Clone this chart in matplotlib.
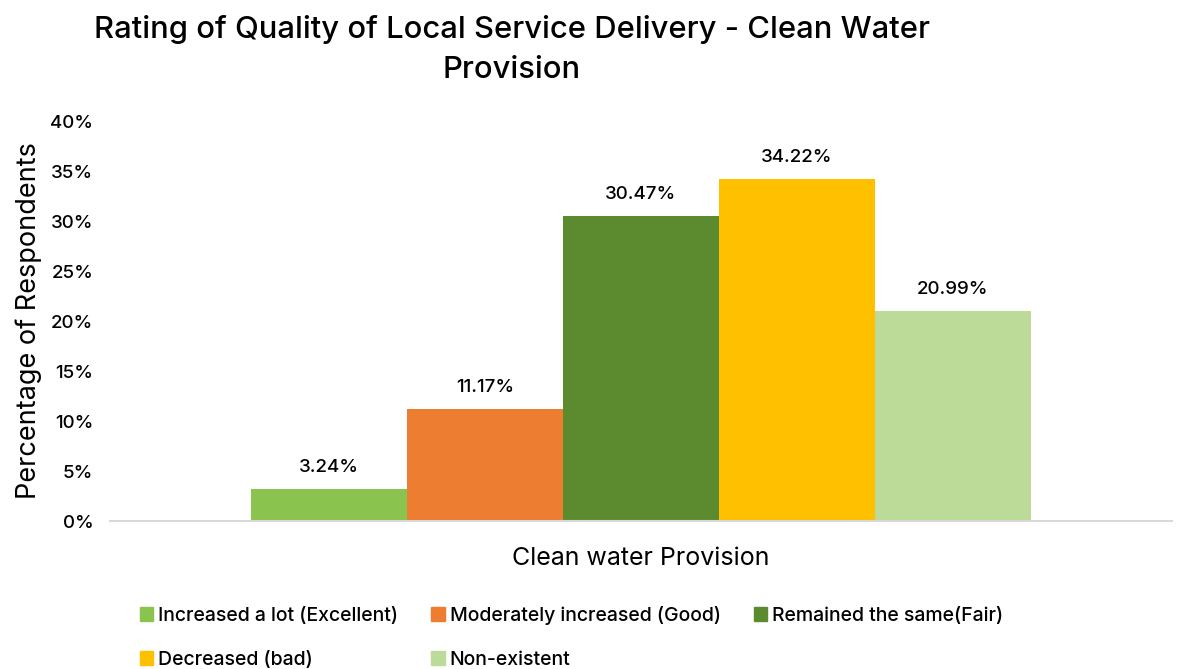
import matplotlib
matplotlib.use("Agg")
import matplotlib.pyplot as plt
from matplotlib.patches import Patch
from matplotlib.ticker import FuncFormatter

plt.rcParams['font.family'] = ['Inter', 'DejaVu Sans']
plt.rcParams['font.weight'] = 'medium'

category = "Clean water Provision"
labels = ["Increased a lot (Excellent)", "Moderately increased (Good)",
          "Remained the same(Fair)", "Decreased (bad)", "Non-existent"]
values = [3.24, 11.17, 30.47, 34.22, 20.99]
colors = ["#8bc34f", "#ed7d31", "#5b8a2f", "#ffc000", "#bcdb98"]

fig = plt.figure(figsize=(11.79, 6.69), dpi=100)
ax = fig.add_axes([110/1179, 1 - 521/669, 1062/1179, 400/669])

w = 156/1062
for i, (lab, v, c) in enumerate(zip(labels, values, colors)):
    x = (i - 2) * w
    ax.bar(x, v, width=w, color=c, label=lab)
    ax.text(x, v + 1.3, f"{v:.2f}%", ha='center', va='bottom', fontsize=13.5)

ax.set_xlim(-0.5, 0.5)
ax.set_ylim(0, 40)
ax.set_yticks(range(0, 41, 5))
ax.yaxis.set_major_formatter(FuncFormatter(lambda v, p: f"{int(v)}%"))
ax.tick_params(axis='y', length=0, labelsize=13.5, pad=12)
ax.set_xticks([])
ax.set_xlabel(category, fontsize=18, labelpad=19)
ax.set_ylabel("Percentage of Respondents", fontsize=19.5, labelpad=6)
for s in ['top', 'right', 'left']:
    ax.spines[s].set_visible(False)
ax.spines['bottom'].set_color('#d9d9d9')
ax.spines['bottom'].set_linewidth(1.5)

fig.text(0.434, 0.977, "Rating of Quality of Local Service Delivery - Clean Water\nProvision",
         ha='center', va='top', fontsize=22.3, linespacing=1.55)

# legend is filled column by column, so reorder to read row by row
order = [0, 3, 1, 4, 2]
handles = [Patch(color=colors[k], label=labels[k]) for k in order]
fig.legend(handles=handles, ncol=3, loc='lower left', bbox_to_anchor=(122/1179, -0.026),
           frameon=False, fontsize=14, handlelength=0.7, handleheight=0.7,
           handletextpad=0.25, columnspacing=1.7, labelspacing=1.35)

fig.savefig("out.png", dpi=100)
